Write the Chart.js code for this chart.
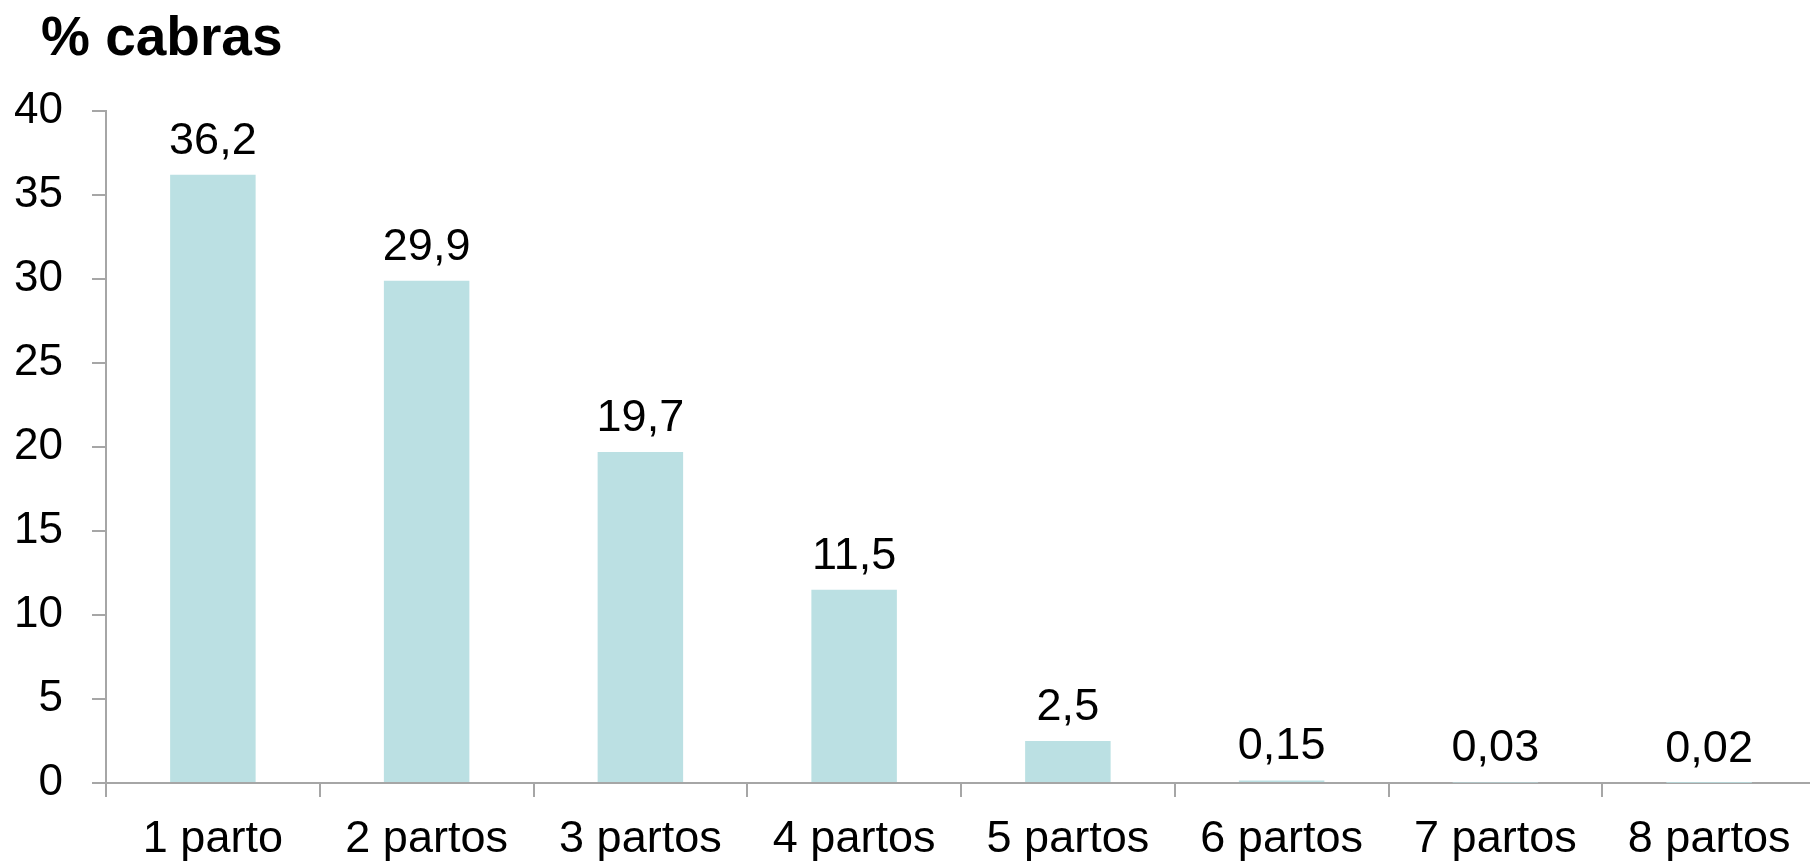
<!DOCTYPE html>
<html>
<head>
<meta charset="utf-8">
<script src="https://cdn.jsdelivr.net/npm/chart.js@4.4.1/dist/chart.umd.min.js"></script>
<style>
  html, body { margin: 0; background: #fff; overflow: hidden; }
  canvas { display: block; }
</style>
</head>
<body>
<!-- plot runs slightly past the right edge of the picture, as in the original -->
<canvas id="myChart" width="1816" height="863"></canvas>
<script>
// data
const categories = ["1 parto", "2 partos", "3 partos", "4 partos", "5 partos", "6 partos", "7 partos", "8 partos"];
const pctCabras = [36.2, 29.9, 19.7, 11.5, 2.5, 0.15, 0.03, 0.02];
const yTicks = [0, 5, 10, 15, 20, 25, 30, 35, 40];

const FONT = "'Liberation Sans', Arial, sans-serif";
const axisGray = "#a6a6a6";

// numbers above bars, decimal comma
const valueLabels = {
  id: "valueLabels",
  afterDatasetsDraw(chart) {
    const ctx = chart.ctx;
    const meta = chart.getDatasetMeta(0);
    ctx.save();
    ctx.font = "45px " + FONT;
    ctx.fillStyle = "#000";
    ctx.textAlign = "center";
    ctx.textBaseline = "alphabetic";
    meta.data.forEach((bar, i) => {
      const txt = String(pctCabras[i]).replace(".", ",");
      ctx.fillText(txt, bar.x, bar.y - 21);
    });
    ctx.restore();
  }
};

// bold title top-left
const topTitle = {
  id: "topTitle",
  afterDraw(chart) {
    const ctx = chart.ctx;
    ctx.save();
    ctx.font = "bold 55px " + FONT;
    ctx.fillStyle = "#000";
    ctx.textAlign = "left";
    ctx.textBaseline = "alphabetic";
    ctx.fillText("% cabras", 41, 55);
    ctx.restore();
  }
};

new Chart("myChart", {
  type: "bar",
  data: {
    labels: categories,
    datasets: [{
      data: pctCabras,
      backgroundColor: "#bbe0e3",
      borderWidth: 0,
      categoryPercentage: 1.0,
      barPercentage: 0.40
    }]
  },
  options: {
    responsive: false,
    animation: false,
    layout: { padding: { top: 111, left: 0, right: 0, bottom: 0 } },
    plugins: {
      legend: { display: false },
      tooltip: { enabled: false },
      title: { display: false }
    },
    scales: {
      x: {
        afterFit(axis) { axis.height = 80; },
        grid: {
          offset: true,
          drawOnChartArea: false,
          drawTicks: true,
          tickLength: 14,
          color: axisGray,
          lineWidth: 2
        },
        border: { color: axisGray, width: 2 },
        ticks: {
          color: "#000",
          font: { family: FONT, size: 45 },
          padding: 16,
          maxRotation: 0,
          autoSkip: false
        }
      },
      y: {
        min: 0,
        max: 40,
        afterFit(axis) { axis.width = 106; },
        afterBuildTicks(axis) {
          axis.ticks = yTicks.map(v => ({ value: v }));
        },
        grid: {
          drawOnChartArea: false,
          drawTicks: true,
          tickLength: 14,
          color: axisGray,
          lineWidth: 2
        },
        border: { color: axisGray, width: 2 },
        ticks: {
          color: "#000",
          font: { family: FONT, size: 44 },
          padding: 29
        }
      }
    }
  },
  plugins: [valueLabels, topTitle]
});
</script>
</body>
</html>
